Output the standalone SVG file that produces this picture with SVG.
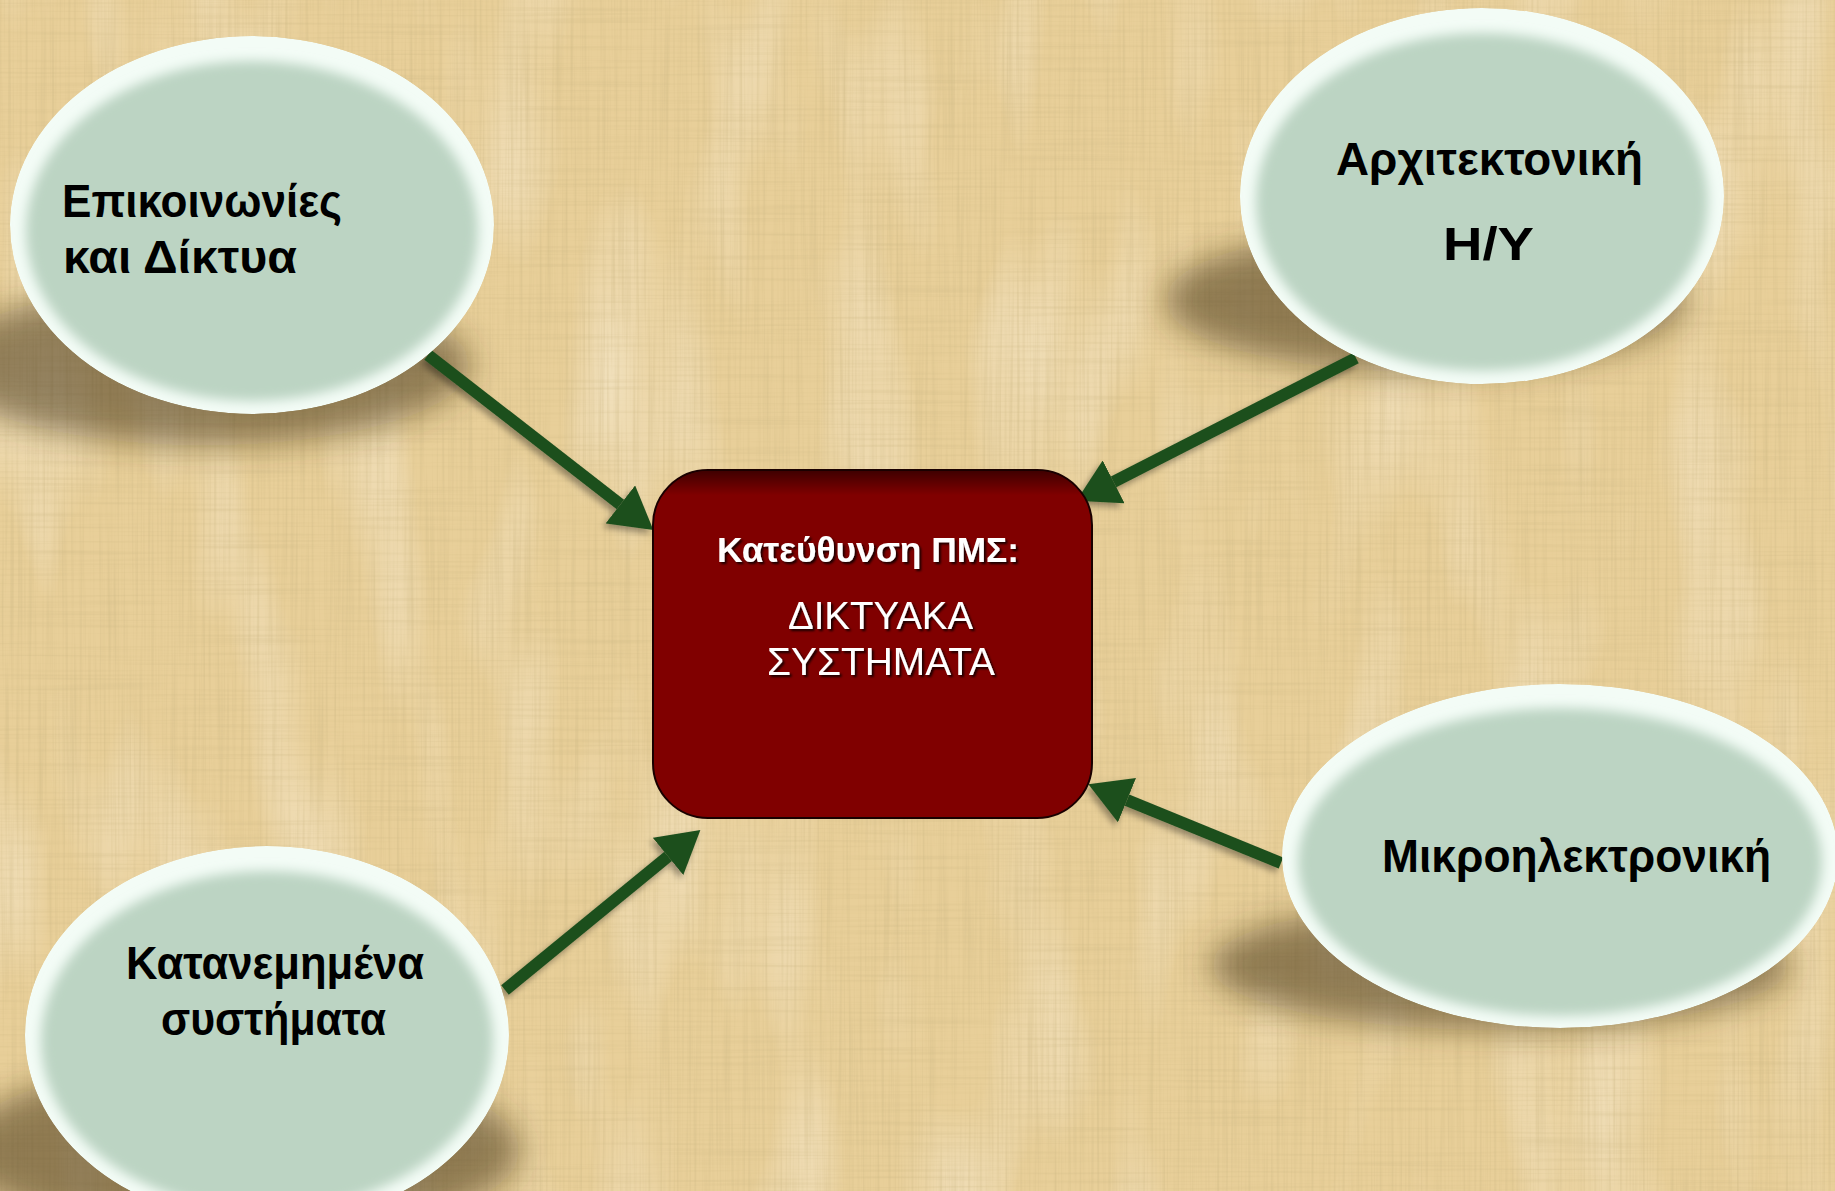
<svg xmlns="http://www.w3.org/2000/svg" width="1835" height="1191" viewBox="0 0 1835 1191">
<defs>
  <style>
    .lbl{font-family:"Liberation Sans","DejaVu Sans",sans-serif;font-weight:bold;font-size:46px;fill:#000;}
    .ttl{font-family:"Liberation Sans","DejaVu Sans",sans-serif;font-weight:bold;font-size:35px;fill:#fff;}
    .sub{font-family:"Liberation Sans","DejaVu Sans",sans-serif;font-size:38px;fill:#fff;}
    .conn{stroke:#1E4F1E;stroke-width:12;fill:none;}
    .rim{fill:#F3FCF6;}
    .core{fill:#BCD4C3;}
    .shadow{fill:#3A2A10;opacity:0.5;}
  </style>
  <filter id="paper" x="0" y="0" width="100%" height="100%" filterUnits="userSpaceOnUse">
    <feTurbulence type="fractalNoise" baseFrequency="0.35 0.006" numOctaves="2" seed="4" result="v"/>
    <feColorMatrix in="v" type="matrix" values="0 0 0 0 0.6  0 0 0 0 0.47  0 0 0 0 0.22  0.9 0 0 0 -0.38" result="vd"/>
    <feTurbulence type="fractalNoise" baseFrequency="0.006 0.35" numOctaves="2" seed="9" result="h"/>
    <feColorMatrix in="h" type="matrix" values="0 0 0 0 0.6  0 0 0 0 0.47  0 0 0 0 0.22  0.7 0 0 0 -0.32" result="hd"/>
    <feTurbulence type="fractalNoise" baseFrequency="0.012 0.004" numOctaves="2" seed="2" result="b"/>
    <feColorMatrix in="b" type="matrix" values="0 0 0 0 1  0 0 0 0 0.95  0 0 0 0 0.8  0.8 0 0 0 -0.38" result="bl"/>
    <feMerge><feMergeNode in="SourceGraphic"/><feMergeNode in="bl"/><feMergeNode in="vd"/><feMergeNode in="hd"/></feMerge>
  </filter>
  <filter id="blurS" x="-30%" y="-60%" width="160%" height="220%"><feGaussianBlur stdDeviation="16"/></filter>
  <filter id="soft" x="-10%" y="-10%" width="120%" height="120%"><feGaussianBlur stdDeviation="6"/></filter>
  <filter id="arrSh" x="-20%" y="-20%" width="140%" height="140%"><feDropShadow dx="-3" dy="4" stdDeviation="3" flood-color="#000" flood-opacity="0.35"/></filter>
  <filter id="txtSh" x="-5%" y="-20%" width="110%" height="150%"><feDropShadow dx="2" dy="2" stdDeviation="1" flood-color="#000" flood-opacity="0.8"/></filter>
  <linearGradient id="topShade" x1="0" y1="0" x2="0" y2="1">
    <stop offset="0" stop-color="#000" stop-opacity="0.5"/>
    <stop offset="0.07" stop-color="#000" stop-opacity="0"/>
  </linearGradient>
  <marker id="ah" markerUnits="userSpaceOnUse" markerWidth="42" markerHeight="48" viewBox="0 0 40 46" refX="0" refY="23" orient="auto">
    <path d="M0,0 L40,23 L0,46 Z" fill="#1E4F1E"/>
  </marker>
  <clipPath id="c1"><ellipse cx="252" cy="225" rx="242" ry="189"/></clipPath>
  <clipPath id="c2"><ellipse cx="1482" cy="196" rx="242" ry="188"/></clipPath>
  <clipPath id="c3"><ellipse cx="267" cy="1035" rx="242" ry="189"/></clipPath>
  <clipPath id="c4"><ellipse cx="1560" cy="856" rx="278" ry="172"/></clipPath>
</defs>

<rect x="0" y="0" width="1835" height="1191" fill="#E8CF99" filter="url(#paper)"/>

<g id="shadows">
  <ellipse class="shadow" cx="205" cy="365" rx="265" ry="80" filter="url(#blurS)"/>
  <ellipse class="shadow" cx="1425" cy="300" rx="260" ry="72" filter="url(#blurS)"/>
  <ellipse class="shadow" cx="240" cy="1150" rx="280" ry="90" filter="url(#blurS)"/>
  <ellipse class="shadow" cx="1500" cy="965" rx="290" ry="65" filter="url(#blurS)"/>
</g>

<g id="connectors" filter="url(#arrSh)">
  <line class="conn" x1="428" y1="355" x2="620.4" y2="504.4" marker-end="url(#ah)"/>
  <line class="conn" x1="1356" y1="358" x2="1113.6" y2="481.8" marker-end="url(#ah)"/>
  <line class="conn" x1="505" y1="990" x2="668.1" y2="856.4" marker-end="url(#ah)"/>
  <line class="conn" x1="1281" y1="863" x2="1127" y2="800.1" marker-end="url(#ah)"/>
</g>

<g id="node-epikoinonies">
  <g clip-path="url(#c1)">
    <ellipse class="rim" cx="252" cy="225" rx="242" ry="189"/>
    <ellipse class="core" cx="252" cy="231" rx="226" ry="170" filter="url(#soft)"/>
  </g>
  <text class="lbl" x="62" y="217" textLength="280" lengthAdjust="spacingAndGlyphs">Επικοινωνίες</text>
  <text class="lbl" x="63" y="273" textLength="234" lengthAdjust="spacingAndGlyphs">και Δίκτυα</text>
</g>

<g id="node-architektoniki">
  <g clip-path="url(#c2)">
    <ellipse class="rim" cx="1482" cy="196" rx="242" ry="188"/>
    <ellipse class="core" cx="1482" cy="202" rx="226" ry="169" filter="url(#soft)"/>
  </g>
  <text class="lbl" x="1336" y="175" textLength="307" lengthAdjust="spacingAndGlyphs">Αρχιτεκτονική</text>
  <text class="lbl" x="1443" y="260" textLength="91" lengthAdjust="spacingAndGlyphs">Η/Υ</text>
</g>

<g id="node-katanemimena">
  <g clip-path="url(#c3)">
    <ellipse class="rim" cx="267" cy="1035" rx="242" ry="189"/>
    <ellipse class="core" cx="267" cy="1041" rx="226" ry="170" filter="url(#soft)"/>
  </g>
  <text class="lbl" x="126" y="979" textLength="298" lengthAdjust="spacingAndGlyphs">Κατανεμημένα</text>
  <text class="lbl" x="161" y="1035" textLength="225" lengthAdjust="spacingAndGlyphs">συστήματα</text>
</g>

<g id="node-mikroilektroniki">
  <g clip-path="url(#c4)">
    <ellipse class="rim" cx="1560" cy="856" rx="278" ry="172"/>
    <ellipse class="core" cx="1560" cy="862" rx="262" ry="154" filter="url(#soft)"/>
  </g>
  <text class="lbl" x="1382" y="872" textLength="389" lengthAdjust="spacingAndGlyphs">Μικροηλεκτρονική</text>
</g>

<g id="node-center">
  <rect x="653" y="470" width="439" height="348" rx="55" ry="55" fill="#800000" stroke="#1A0000" stroke-width="2"/>
  <rect x="654" y="471" width="437" height="346" rx="54" ry="54" fill="url(#topShade)"/>
  <g filter="url(#txtSh)">
    <text class="ttl" x="717" y="562" textLength="302" lengthAdjust="spacingAndGlyphs">Κατεύθυνση ΠΜΣ:</text>
    <text class="sub" x="788" y="629" textLength="185" lengthAdjust="spacingAndGlyphs">ΔΙΚΤΥΑΚΑ</text>
    <text class="sub" x="767" y="675" textLength="228" lengthAdjust="spacingAndGlyphs">ΣΥΣΤΗΜΑΤΑ</text>
  </g>
</g>
</svg>
